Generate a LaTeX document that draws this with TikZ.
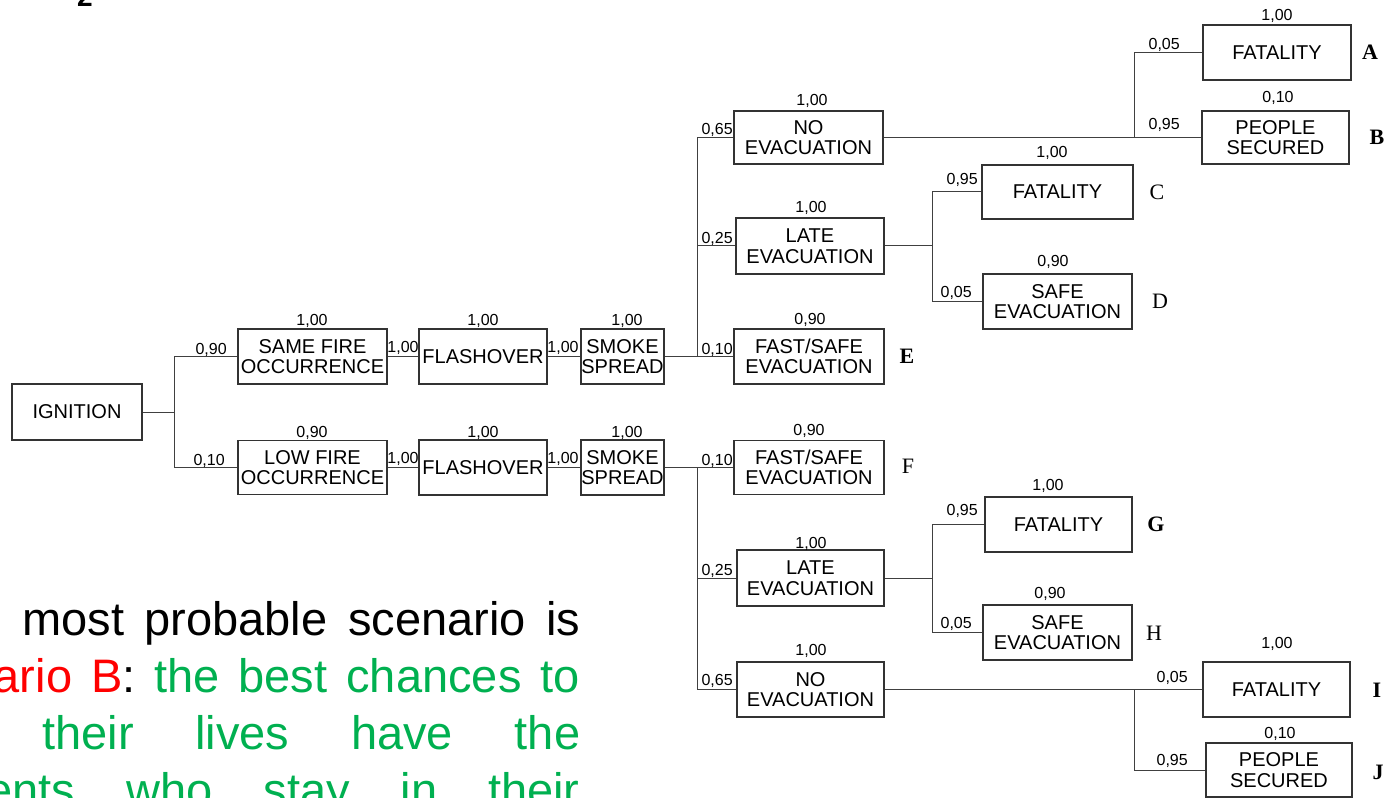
\documentclass[tikz,border=0pt]{standalone}
\usepackage{fontspec}
\setmainfont{Liberation Sans}
\newfontfamily\serifL{Liberation Serif}
\definecolor{pgreen}{HTML}{00B050}
\definecolor{pred}{HTML}{FF0000}
\begin{document}
\begin{tikzpicture}[x=0.75pt,y=-0.75pt,
  box/.style={draw=black!80, line width=0.9pt, inner sep=0pt, align=center,
    font=\fontsize{15}{15.5}\selectfont, minimum width=111.75pt, minimum height=41.25pt},
  conn/.style={draw=black!75, line width=0.75pt},
  prob/.style={inner sep=0pt, font=\fontsize{12}{12}\selectfont, anchor=base},
  br/.style={prob, anchor=base east},
  scen/.style={inner sep=0pt, font=\serifL\fontsize{16.5}{16.5}\selectfont},
  scenb/.style={scen, font=\serifL\bfseries\fontsize{16.5}{16.5}\selectfont},
  big/.style={inner sep=0pt, font=\fontsize{35.25}{42}\selectfont}]
\useasboundingbox (0,0) rectangle (1388,798);
\clip (0,0) rectangle (1388,798);

% boxes
\node[box, minimum width=97.5pt, minimum height=42pt] (ign) at (77,412) {IGNITION};
\node[box] (same) at (312.5,356.5) {SAME FIRE\\OCCURRENCE};
\node[box, minimum height=40.5pt] (low) at (312.5,467.5) {LOW FIRE\\OCCURRENCE};
\node[box, minimum width=96pt] (fl1) at (483,356.5) {FLASHOVER};
\node[box, minimum width=96pt] (fl2) at (483,467.5) {FLASHOVER};
\node[box, minimum width=62.25pt] (sm1) at (622.5,356.5) {SMOKE\\SPREAD};
\node[box, minimum width=62.25pt] (sm2) at (622.5,467.5) {SMOKE\\SPREAD};
\node[box, minimum height=39.75pt] (ne1) at (808.5,137.5) {NO\\EVACUATION};
\node[box, minimum width=111pt, minimum height=42pt] (le1) at (810,246) {LATE\\EVACUATION};
\node[box, minimum width=112.5pt] (fs1) at (809,356.5) {FAST/SAFE\\EVACUATION};
\node[box, minimum width=111pt] (fA) at (1277,52.5) {FATALITY};
\node[box, minimum width=110.25pt, minimum height=39.75pt] (sB) at (1275.5,137.5) {PEOPLE\\SECURED};
\node[box, minimum width=113.25pt, minimum height=40.5pt] (fC) at (1057.5,192) {FATALITY};
\node[box] (sD) at (1057.5,301.5) {SAFE\\EVACUATION};
\node[box, minimum width=112.5pt, minimum height=40.5pt] (fF) at (809,467.5) {FAST/SAFE\\EVACUATION};
\node[box, minimum width=110.25pt, minimum height=42pt] (le2) at (810.5,578) {LATE\\EVACUATION};
\node[box, minimum width=110.25pt] (ne2) at (810.5,689.5) {NO\\EVACUATION};
\node[box, minimum width=110.25pt] (fG) at (1058.5,524.5) {FATALITY};
\node[box] (sH) at (1057.5,632.5) {SAFE\\EVACUATION};
\node[box, minimum width=110.25pt] (fI) at (1276.5,689.5) {FATALITY};
\node[box, minimum width=109.5pt, minimum height=40.5pt] (sJ) at (1279,770) {PEOPLE\\SECURED};

% junctions
\coordinate (j1) at (174,412);
\coordinate (j2) at (697,356.5);
\coordinate (j3) at (1134,137.5);
\coordinate (j4) at (932,246);
\coordinate (j5) at (697,467.5);
\coordinate (j6) at (932,578);
\coordinate (j7) at (1134,689.5);

% connectors
\draw[conn] (ign) -- (j1);
\draw[conn] (j1) |- (same);
\draw[conn] (j1) |- (low);
\draw[conn] (same) -- (fl1);
\draw[conn] (fl1) -- (sm1);
\draw[conn] (low) -- (fl2);
\draw[conn] (fl2) -- (sm2);
\draw[conn] (sm1) -- (j2);
\draw[conn] (j2) |- (ne1);
\draw[conn] (j2) |- (le1);
\draw[conn] (j2) -- (fs1);
\draw[conn] (ne1) -- (j3);
\draw[conn] (j3) -- (sB);
\draw[conn] (j3) |- (fA);
\draw[conn] (le1) -- (j4);
\draw[conn] (j4) |- (fC);
\draw[conn] (j4) |- (sD);
\draw[conn] (sm2) -- (j5);
\draw[conn] (j5) -- (fF);
\draw[conn] (j5) |- (le2);
\draw[conn] (j5) |- (ne2);
\draw[conn] (le2) -- (j6);
\draw[conn] (j6) |- (fG);
\draw[conn] (j6) |- (sH);
\draw[conn] (ne2) -- (j7);
\draw[conn] (j7) -- (fI);
\draw[conn] (j7) |- (sJ);

% probabilities above boxes
\node[prob] (p-same) at (312,326) {1,00};
\node[prob] (p-low) at (312,437) {0,90};
\node[prob] (p-fl1) at (483,326) {1,00};
\node[prob] (p-sm1) at (627,326) {1,00};
\node[prob] (p-fl2) at (483,437) {1,00};
\node[prob] (p-sm2) at (627,437) {1,00};
\node[prob] (p-ne1) at (812,106) {1,00};
\node[prob] (p-le1) at (811,213) {1,00};
\node[prob] (p-fs1) at (810,325) {0,90};
\node[prob] (p-fA) at (1277,21) {1,00};
\node[prob] (p-sB) at (1278,103) {0,10};
\node[prob] (p-fC) at (1052,158) {1,00};
\node[prob] (p-sD) at (1053,267) {0,90};
\node[prob] (p-fF) at (809,435) {0,90};
\node[prob] (p-le2) at (811,548) {1,00};
\node[prob] (p-ne2) at (811,655) {1,00};
\node[prob] (p-fG) at (1048,490) {1,00};
\node[prob] (p-sH) at (1050,598) {0,90};
\node[prob] (p-fI) at (1277,648) {1,00};
\node[prob] (p-sJ) at (1280,738) {0,10};

% branch probabilities
\node[br] (b-same) at (227,354) {0,90};
\node[br] (b-low) at (225,465) {0,10};
\node[prob] (b-fl1) at (403,353) {1,00};
\node[prob] (b-sm1) at (563,353) {1,00};
\node[prob] (b-fl2) at (403,463) {1,00};
\node[prob] (b-sm2) at (563,463) {1,00};
\node[br] (b-ne1) at (733,135) {0,65};
\node[br] (b-le1) at (733,243.5) {0,25};
\node[br] (b-fs1) at (733,354) {0,10};
\node[br] (b-fA) at (1180,50) {0,05};
\node[br] (b-sB) at (1180,130) {0,95};
\node[br] (b-fC) at (978,185) {0,95};
\node[br] (b-sD) at (972,298) {0,05};
\node[br] (b-fF) at (733,465) {0,10};
\node[br] (b-le2) at (733,575) {0,25};
\node[br] (b-ne2) at (733,685) {0,65};
\node[br] (b-fG) at (978,515) {0,95};
\node[br] (b-sH) at (972,628) {0,05};
\node[br] (b-fI) at (1188,682) {0,05};
\node[br] (b-sJ) at (1188,765) {0,95};

% scenario letters
\node[scenb] (sA) at (1370,52) {A};
\node[scenb] (sBl) at (1377,137) {B};
\node[scen] (sC) at (1157,192) {C};
\node[scen] (sDl) at (1160,301) {D};
\node[scenb] (sE) at (907,356) {E};
\node[scen] (sF) at (908,466) {F};
\node[scenb] (sG) at (1156,524) {G};
\node[scen] (sHl) at (1154,633) {H};
\node[scenb] (sI) at (1377,690) {I};
\node[scenb] (sJl) at (1378,772) {J};

% cut-off top mark
\node[inner sep=0pt, anchor=base, font=\bfseries\fontsize{21}{21}\selectfont] (two) at (85,7) {2};

% bottom text
\node[big, anchor=base west] (t1) at (22,635) {\hbox to 418.5pt{most\hfill probable\hfill scenario\hfill is}};
\node[big, anchor=base east, text=pgreen] (t2) at (580,692) {\hbox to 519.75pt{\textcolor{pred}{Scenario}\hfill\textcolor{pred}{B}\textcolor{black}{:}\hfill the\hfill best\hfill chances\hfill to}};
\node[big, anchor=base west, text=pgreen] (t3) at (42,749) {\hbox to 403.5pt{their\hfill lives\hfill have\hfill the}};
\node[big, anchor=base east, text=pgreen] (t4) at (580,806) {\hbox to 521.25pt{residents\hfill who\hfill stay\hfill in\hfill their}};
\end{tikzpicture}
\end{document}
